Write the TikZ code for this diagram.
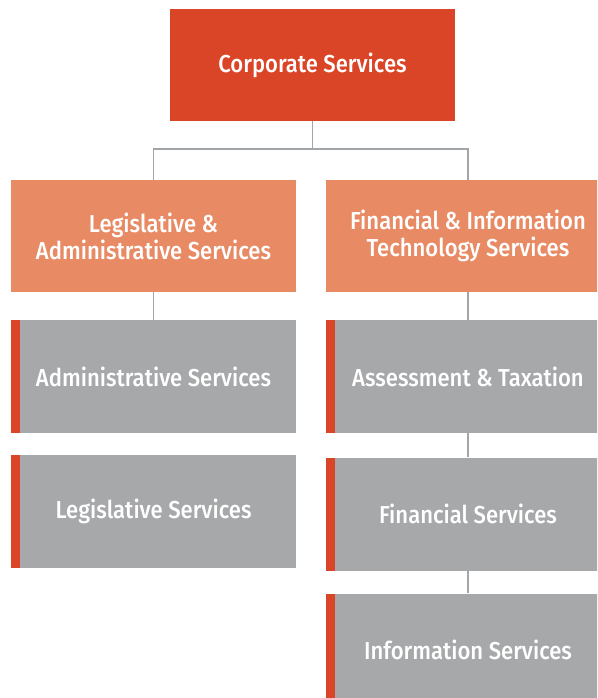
\documentclass[tikz,border=0pt]{standalone}
\usepackage{fontspec}
\newfontfamily\boxfont{Fira Sans Medium}[FakeStretch=0.9]
\usepackage{tikz}
\usetikzlibrary{positioning,calc}
\definecolor{corpred}{HTML}{DB4527}
\definecolor{divorange}{HTML}{E88A64}
\definecolor{unitgray}{HTML}{A7A8AA}
\definecolor{linegray}{HTML}{A3A6A9}
\tikzset{every picture/.style={x=1pt,y=1pt}}
\tikzset{box/.style={minimum width=285pt,minimum height=112pt,inner sep=0pt,
    text=white,align=center,font=\boxfont\fontsize{24.5}{27}\selectfont}}
\tikzset{topbox/.style={box,fill=corpred}}
\tikzset{divbox/.style={box,fill=divorange}}
\tikzset{unitbox/.style={box,fill=unitgray,minimum height=113pt,
    path picture={\fill[corpred] (path picture bounding box.south west)
      rectangle ([xshift=9pt]path picture bounding box.north west);}}}
\tikzset{conn/.style={linegray,line width=1.5pt}}

\begin{document}
\begin{tikzpicture}
      \clip (0,0) rectangle (597,-698);
      \useasboundingbox (0,0) rectangle (597,-698);
      % top
      \node [topbox] (corp) at (312.5,-65) {Corporate Services};
      % divisions
      \node [divbox] (legadmin) at (153.5,-236) {Legislative \&\\Administrative Services};
      \node [divbox] (finit) at (468,-236) {Financial \& Information\\Technology Services};
      % units
      \node [unitbox] (admin) at (153.5,-376.5) {Administrative Services};
      \node [unitbox] (legsvc) at (153.5,-511.5) {Legislative Services};
      \node [unitbox] (assess) at (468,-376.5) {Assessment \& Taxation};
      \node [unitbox] (finsvc) at (468,-514) {Financial Services};
      \node [unitbox] (infosvc) at (468,-650) {Information Services};
      % connectors
      \draw [conn] (corp.south) -- ++(0,-28) coordinate (hub);
      \draw [conn] (hub) -| (legadmin.north);
      \draw [conn] (hub) -| (finit.north);
      \draw [conn] (legadmin) -- (admin);
      \draw [conn] (finit) -- (assess);
      \draw [conn] (assess) -- (finsvc);
      \draw [conn] (finsvc) -- (infosvc);
    \end{tikzpicture}
\end{document}
